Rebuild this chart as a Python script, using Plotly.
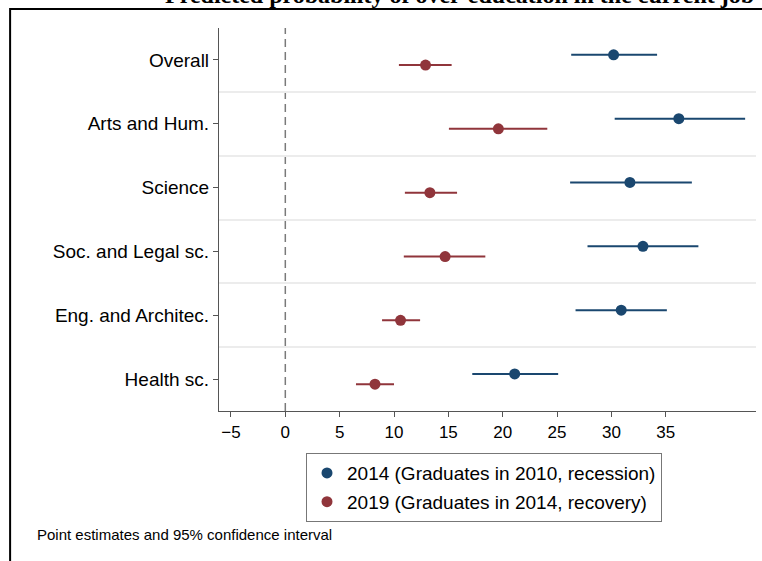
import plotly.graph_objects as go

categories = ["Overall", "Arts and Hum.", "Science", "Soc. and Legal sc.", "Eng. and Architec.", "Health sc."]
cat_pos = [6, 5, 4, 3, 2, 1]

est_2014 = [30.2, 36.2, 31.7, 32.9, 30.9, 21.1]
lo_2014 = [26.3, 30.3, 26.2, 27.8, 26.7, 17.2]
hi_2014 = [34.2, 42.3, 37.4, 38.0, 35.1, 25.1]

est_2019 = [12.9, 19.6, 13.3, 14.7, 10.6, 8.25]
lo_2019 = [10.45, 15.05, 11.0, 10.9, 8.9, 6.5]
hi_2019 = [15.3, 24.1, 15.8, 18.4, 12.4, 10.0]

x_ticks = [-5, 0, 5, 10, 15, 20, 25, 30, 35]

name_2014 = "2014 (Graduates in 2010, recession)"
name_2019 = "2019 (Graduates in 2014, recovery)"
title_text = "Predicted probability of over-education in the current job"
note_text = "Point estimates and 95% confidence interval"

BLUE = "#1a476f"
RED = "#90353b"
offset = 0.08

fig = go.Figure()
fig.add_trace(go.Scatter(
    x=est_2014, y=[p + offset for p in cat_pos], mode="markers", name=name_2014,
    legendgroup="a",
    marker=dict(color=BLUE, size=11),
    error_x=dict(type="data", symmetric=False,
                 array=[h - e for h, e in zip(hi_2014, est_2014)],
                 arrayminus=[e - l for e, l in zip(est_2014, lo_2014)],
                 color=BLUE, thickness=2, width=0),
))
fig.add_trace(go.Scatter(
    x=est_2019, y=[p - offset for p in cat_pos], mode="markers", name=name_2019,
    legendgroup="b",
    marker=dict(color=RED, size=11),
    error_x=dict(type="data", symmetric=False,
                 array=[h - e for h, e in zip(hi_2019, est_2019)],
                 arrayminus=[e - l for e, l in zip(est_2019, lo_2019)],
                 color=RED, thickness=2, width=0),
))

# reference line at 0
fig.add_shape(type="line", xref="x", yref="paper", x0=0, x1=0, y0=0, y1=1,
              line=dict(color="#7a7a7a", width=1.5, dash="8px,5px"), layer="below")

# outer frame (partially off canvas)
fig.add_shape(type="rect", xref="paper", yref="paper",
              x0=-0.389, x1=1.2, y0=-0.6, y1=1.0496,
              line=dict(color="black", width=2), fillcolor="rgba(0,0,0,0)")

fig.add_annotation(text=f"<b>{title_text}</b>", xref="paper", yref="paper",
                   x=1.0, y=1.047, xanchor="right", yanchor="bottom", showarrow=False,
                   font=dict(family="Liberation Serif", size=24, color="black"))

fig.add_annotation(text=note_text, xref="paper", yref="paper",
                   x=-0.342, y=-0.323, xanchor="left", yanchor="middle", showarrow=False,
                   font=dict(family="Liberation Sans, Arial", size=15, color="black"))

fig.update_layout(
    width=762, height=561,
    margin=dict(l=219, r=6, t=28, b=150, autoexpand=False),
    paper_bgcolor="white", plot_bgcolor="white",
    font=dict(family="Liberation Sans, Arial", color="black"),
    showlegend=True,
    legend=dict(x=0.162, y=-0.11, xanchor="left", yanchor="top",
                bordercolor="#777777", borderwidth=1, bgcolor="white",
                font=dict(size=19, color="black"), itemwidth=30, tracegroupgap=1),
    xaxis=dict(range=[-6.1, 43.3], tickvals=x_ticks, ticks="outside", ticklen=5,
               tickcolor="#555555", showline=True, linecolor="#555555", linewidth=1.2,
               showgrid=False, zeroline=False, tickfont=dict(size=17)),
    yaxis=dict(range=[0.5, 6.5], tickvals=cat_pos, ticktext=categories, ticks="outside",
               ticklen=5, tickcolor="#555555", showline=True, linecolor="#555555",
               linewidth=1.2, showgrid=False, zeroline=False, tickfont=dict(size=19),
               minor=dict(tickmode="array", tickvals=[1.5, 2.5, 3.5, 4.5, 5.5],
                          showgrid=True, gridcolor="#ececec", gridwidth=2, ticks="")),
)

fig.write_html("out.html", config={"displayModeBar": False},
               post_script="document.body.style.margin='0';")
